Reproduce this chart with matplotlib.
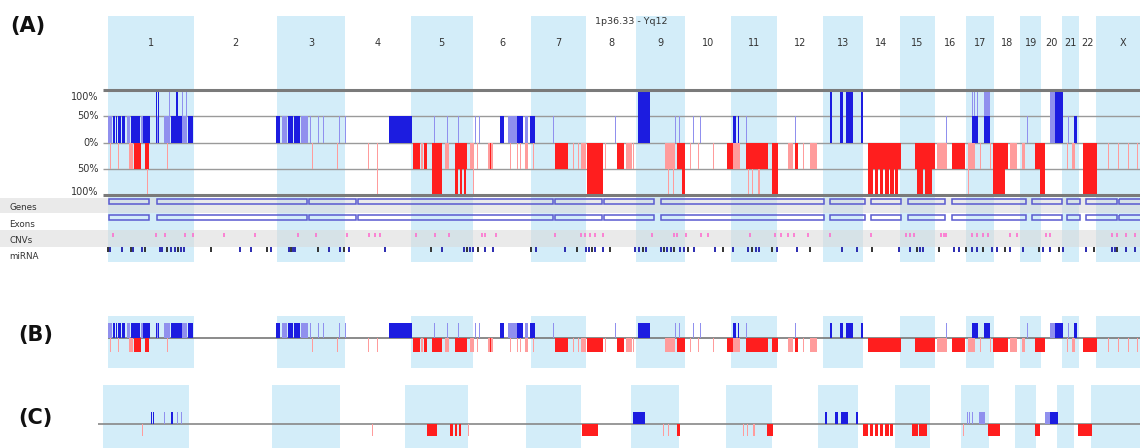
import numpy as np
import matplotlib
matplotlib.use('Agg')
import matplotlib.pyplot as plt
from matplotlib.patches import Rectangle

# chromosome names and lengths (Mb, hg19)
chrom_names = [str(i) for i in range(1, 23)] + ['X']
chrom_len = [249.3, 243.2, 198.0, 191.2, 180.9, 171.1, 159.1, 146.4, 141.2, 135.5,
             135.0, 133.9, 115.2, 107.3, 102.5, 90.4, 81.2, 78.1, 59.1, 63.0,
             48.1, 51.3, 155.3]

# events in genome coordinate (Mb): (start, end, level 1=50% 2=100%, dark)
gains = [
    (0, 12, 1, 0), (15, 20, 1, 1), (23, 26, 1, 1), (29, 38, 1, 1), (41, 50, 1, 1),
    (55, 64, 1, 0), (67, 93, 1, 1), (96, 102, 1, 0), (102, 122, 1, 1),
    (140, 143, 2, 1), (146, 149, 2, 1), (143, 146, 1, 0),
    (163, 181, 1, 0), (184, 216, 1, 1), (219, 230, 1, 0), (233, 248, 1, 1),
    (177, 180, 2, 0), (198, 204, 2, 1), (216, 219, 2, 0), (227, 230, 2, 0),
    (490, 501, 1, 1), (507, 522, 1, 0), (525, 539, 1, 1), (542, 560, 1, 1),
    (563, 583, 1, 0), (589, 591, 1, 0), (612, 614, 1, 0), (627, 629, 1, 0),
    (673, 675, 1, 0), (691, 693, 1, 0),
    (819, 886, 1, 1),
    (950, 952, 1, 0), (988, 990, 1, 0), (1020, 1022, 1, 0),
    (1070, 1072, 1, 0), (1081, 1083, 1, 0), (1143, 1154, 1, 1), (1166, 1192, 1, 0),
    (1192, 1210, 1, 1), (1216, 1224, 1, 0), (1230, 1245, 1, 1), (1297, 1299, 1, 0),
    (1478, 1480, 1, 0),
    (1545, 1580, 2, 1), (1653, 1655, 1, 0), (1664, 1666, 1, 0),
    (1705, 1707, 1, 0), (1726, 1728, 1, 0),
    (1822, 1831, 1, 1), (1836, 1838, 1, 1), (1860, 1862, 1, 0),
    (2003, 2005, 1, 0),
    (2105, 2111, 2, 1), (2134, 2143, 2, 1), (2151, 2172, 2, 1), (2195, 2201, 2, 1),
    (2443, 2445, 1, 0),
    (2519, 2536, 1, 1), (2519, 2521, 2, 0), (2525, 2527, 2, 0), (2533, 2535, 2, 0),
    (2554, 2571, 2, 0), (2554, 2571, 1, 1),
    (2679, 2681, 1, 0),
    (2746, 2760, 2, 0), (2760, 2784, 2, 1),
    (2798, 2800, 1, 0), (2816, 2825, 1, 1),
]

losses = [
    (6, 8, 1, 0), (29, 31, 1, 0), (61, 73, 1, 0), (76, 96, 1, 1), (108, 120, 1, 1),
    (114, 117, 2, 0), (172, 174, 1, 0),
    (595, 597, 1, 0), (667, 669, 1, 0),
    (758, 760, 1, 0), (784, 786, 2, 0),
    (889, 909, 1, 1), (912, 918, 1, 0), (921, 930, 1, 1), (944, 974, 2, 1),
    (982, 994, 1, 0), (1012, 1046, 1, 1), (1012, 1020, 2, 1), (1026, 1032, 2, 1),
    (1037, 1043, 2, 1), (1055, 1064, 1, 0), (1063, 1066, 2, 0),
    (1075, 1077, 1, 0), (1108, 1122, 1, 0), (1113, 1116, 1, 1), (1172, 1174, 1, 0),
    (1192, 1194, 1, 0), (1201, 1203, 1, 0), (1216, 1224, 1, 0), (1239, 1241, 1, 0),
    (1303, 1341, 1, 1), (1355, 1357, 1, 0), (1370, 1372, 1, 0), (1379, 1393, 1, 0),
    (1396, 1443, 2, 1), (1449, 1451, 1, 0), (1484, 1503, 1, 1), (1509, 1527, 1, 0),
    (1529, 1531, 1, 0),
    (1624, 1653, 1, 0), (1632, 1634, 2, 0), (1647, 1649, 2, 0), (1659, 1682, 1, 1),
    (1673, 1682, 2, 1),
    (1697, 1699, 1, 0), (1720, 1722, 1, 0), (1764, 1766, 1, 0), (1804, 1822, 1, 1),
    (1822, 1842, 1, 0), (1866, 1868, 2, 0), (1877, 1879, 2, 0), (1860, 1924, 1, 1),
    (1895, 1901, 2, 0), (1936, 1953, 2, 1),
    (1982, 1997, 1, 0), (2003, 2011, 1, 1), (2026, 2028, 1, 0), (2046, 2067, 1, 0),
    (2215, 2312, 1, 1), (2215, 2230, 2, 1), (2235, 2245, 2, 1), (2250, 2260, 2, 1),
    (2265, 2275, 2, 1), (2280, 2290, 2, 1), (2295, 2303, 2, 1),
    (2352, 2411, 1, 1), (2358, 2375, 2, 1), (2380, 2402, 2, 1), (2417, 2446, 1, 0),
    (2460, 2498, 1, 1), (2507, 2527, 1, 0),
    (2507, 2509, 2, 0), (2542, 2544, 1, 0), (2571, 2573, 1, 0),
    (2580, 2624, 1, 1), (2580, 2615, 2, 1), (2629, 2650, 1, 0), (2664, 2673, 1, 0),
    (2702, 2731, 1, 1), (2717, 2731, 2, 1),
    (2795, 2797, 1, 0), (2810, 2819, 1, 0),
    (2842, 2883, 2, 1),
    (2915, 2917, 1, 0), (2944, 2946, 1, 0), (2973, 2975, 1, 0), (2999, 3001, 1, 0),
]

gene_segments = [(0, 122), (140, 583), (583, 726), (726, 1300), (1300, 1443),
                 (1443, 1592), (1609, 2090), (2102, 2207), (2221, 2312),
                 (2329, 2443), (2457, 2679), (2691, 2784), (2793, 2836),
                 (2848, 2944), (2944, 3023)]

cnv_pos = [15, 140, 166, 224, 248, 338, 429, 554, 606, 697, 761, 778, 793, 898, 953,
           994, 1090, 1099, 1131, 1303, 1379, 1390, 1405, 1420, 1443, 1586, 1650,
           1659, 1685, 1729, 1749, 1871, 1944, 1962, 1982, 2000, 2041, 2105, 2224,
           2326, 2338, 2350, 2428, 2437, 2443, 2519, 2533, 2551, 2565, 2629, 2650,
           2734, 2746, 2927, 2941, 2967, 2994]

mirna_pos = [0, 6, 41, 67, 73, 99, 108, 152, 157, 172, 184, 195, 204, 213, 222, 300,
             385, 417, 463, 475, 528, 533, 539, 545, 612, 644, 676, 688, 703, 807,
             942, 974, 1038, 1046, 1055, 1064, 1079, 1099, 1122, 1233, 1248, 1332,
             1367, 1393, 1402, 1411, 1420, 1443, 1463, 1536, 1548, 1560, 1568, 1612,
             1621, 1629, 1641, 1650, 1667, 1679, 1691, 1708, 1769, 1793, 1822, 1866,
             1877, 1889, 1898, 1936, 1950, 2008, 2046, 2140, 2183, 2227, 2306, 2338,
             2358, 2367, 2376, 2422, 2466, 2481, 2501, 2519, 2533, 2551, 2577, 2591,
             2615, 2629, 2667, 2714, 2726, 2746, 2772, 2784, 2851, 2874, 2927, 2935,
             2941, 2967, 2994]

W, H = 1140, 448
XL = (-315, 3008)
band_col = '#d3edf9'
gain_col = {0: '#9090ee', 1: '#1c1ce0'}
loss_col = {0: '#ff9c9c', 1: '#ff1e1e'}

starts = np.concatenate([[0], np.cumsum(chrom_len)[:-1]])
mids = starts + np.array(chrom_len) / 2

fig = plt.figure(figsize=(W / 100, H / 100), dpi=100)


def px_axes(left, top, right, bottom):
    ax = fig.add_axes([left / W, 1 - bottom / H, (right - left) / W, (bottom - top) / H])
    ax.axis('off')
    return ax


def bands(ax):
    for i in range(0, len(chrom_len), 2):
        ax.axvspan(starts[i], starts[i] + chrom_len[i], color=band_col, lw=0, zorder=0)


def draw_events(ax, events, sign, hfun, cols, keep=lambda lev: True):
    for s, e, lev, dark in sorted(events, key=lambda t: (-t[2], t[3])):
        if not keep(lev):
            continue
        ax.bar(s, sign * hfun(lev), width=max(e - s, 3.2), align='edge',
               color=cols[dark], linewidth=0, zorder=3)


# ---- (A) header ----
ax_h = px_axes(0, 16, W, 88)
ax_h.set_xlim(*XL)
ax_h.set_ylim(88, 16)
bands(ax_h)
for m, name in zip(mids, chrom_names):
    ax_h.text(m, 43, name, ha='center', va='center', fontsize=7, color='#333333')
ax_h.text(1525, 21, '1p36.33 - Yq12', ha='center', va='center', fontsize=6.8, color='#333333')

# ---- (A) percentage plot ----
ax_a = px_axes(0, 88, W, 198)
ax_a.set_xlim(*XL)
ax_a.set_ylim(-105.7, 103.8)
bands(ax_a)
ax_a.hlines([50, 0, -50], -15, XL[1], color='#9a9a9a', lw=1, zorder=2)
ax_a.hlines([100, -100], -15, XL[1], color='#7a7a7a', lw=2.2, zorder=4)
draw_events(ax_a, gains, 1, lambda l: 50 * l, gain_col)
draw_events(ax_a, losses, -1, lambda l: 50 * l, loss_col)
for yv, lab in [(87, '100%'), (50, '50%'), (0, '0%'), (-50, '50%'), (-94, '100%')]:
    ax_a.text(-27, yv, lab, ha='right', va='center', fontsize=7, color='#333333')

# ---- (A) tracks ----
ax_t = px_axes(0, 198, W, 262)
ax_t.set_xlim(*XL)
ax_t.set_ylim(262, 198)
bands(ax_t)
ax_t.axhspan(198, 213, color='#d9d9d9', alpha=0.55, lw=0, zorder=1)
ax_t.axhspan(230, 247, color='#d9d9d9', alpha=0.55, lw=0, zorder=1)
for s, e in gene_segments:
    for y0 in (199, 215):
        ax_t.add_patch(Rectangle((s + 2, y0), e - s - 4, 5, fill=False,
                                 edgecolor='#5a5ad0', lw=1.1, zorder=3))
ax_t.vlines(cnv_pos, 233, 237, color='#ff66cc', lw=1.1, zorder=3)
mir_cols = ['#2b2bb0' if i % 3 else '#333333' for i in range(len(mirna_pos))]
ax_t.vlines(mirna_pos, 246.5, 252, color=mir_cols, lw=1.4, zorder=3)
for yv, lab in [(207, 'Genes'), (224, 'Exons'), (240, 'CNVs'), (256, 'miRNA')]:
    ax_t.text(-287, yv, lab, ha='left', va='center', fontsize=6.3, color='#333333')

# ---- (B) ----
ax_b = px_axes(0, 316, W, 368)
ax_b.set_xlim(*XL)
ax_b.set_ylim(-2.0, 1.47)
bands(ax_b)
ax_b.hlines(0, 0, XL[1], color='#777777', lw=1.2, zorder=2)
draw_events(ax_b, gains, 1, lambda l: 1.0, gain_col)
draw_events(ax_b, losses, -1, lambda l: 0.93, loss_col)

# ---- (C) only 100% events ----
ax_c = px_axes(-5, 385, W, 448)
ax_c.set_xlim(XL[0], XL[1] + 15)
ax_c.set_ylim(-2.0, 3.25)
bands(ax_c)
ax_c.hlines(0, -15, XL[1] + 15, color='#888888', lw=1.2, zorder=2)
draw_events(ax_c, gains, 1, lambda l: 1.0, gain_col, keep=lambda l: l == 2)
draw_events(ax_c, losses, -1, lambda l: 1.0, loss_col, keep=lambda l: l == 2)

# panel labels
for x, y, lab in [(10, 26, '(A)'), (18, 335, '(B)'), (18, 418, '(C)')]:
    fig.text(x / W, 1 - y / H, lab, ha='left', va='center', fontsize=15,
             fontweight='bold', color='#111111')

fig.savefig('out.png', dpi=100)
